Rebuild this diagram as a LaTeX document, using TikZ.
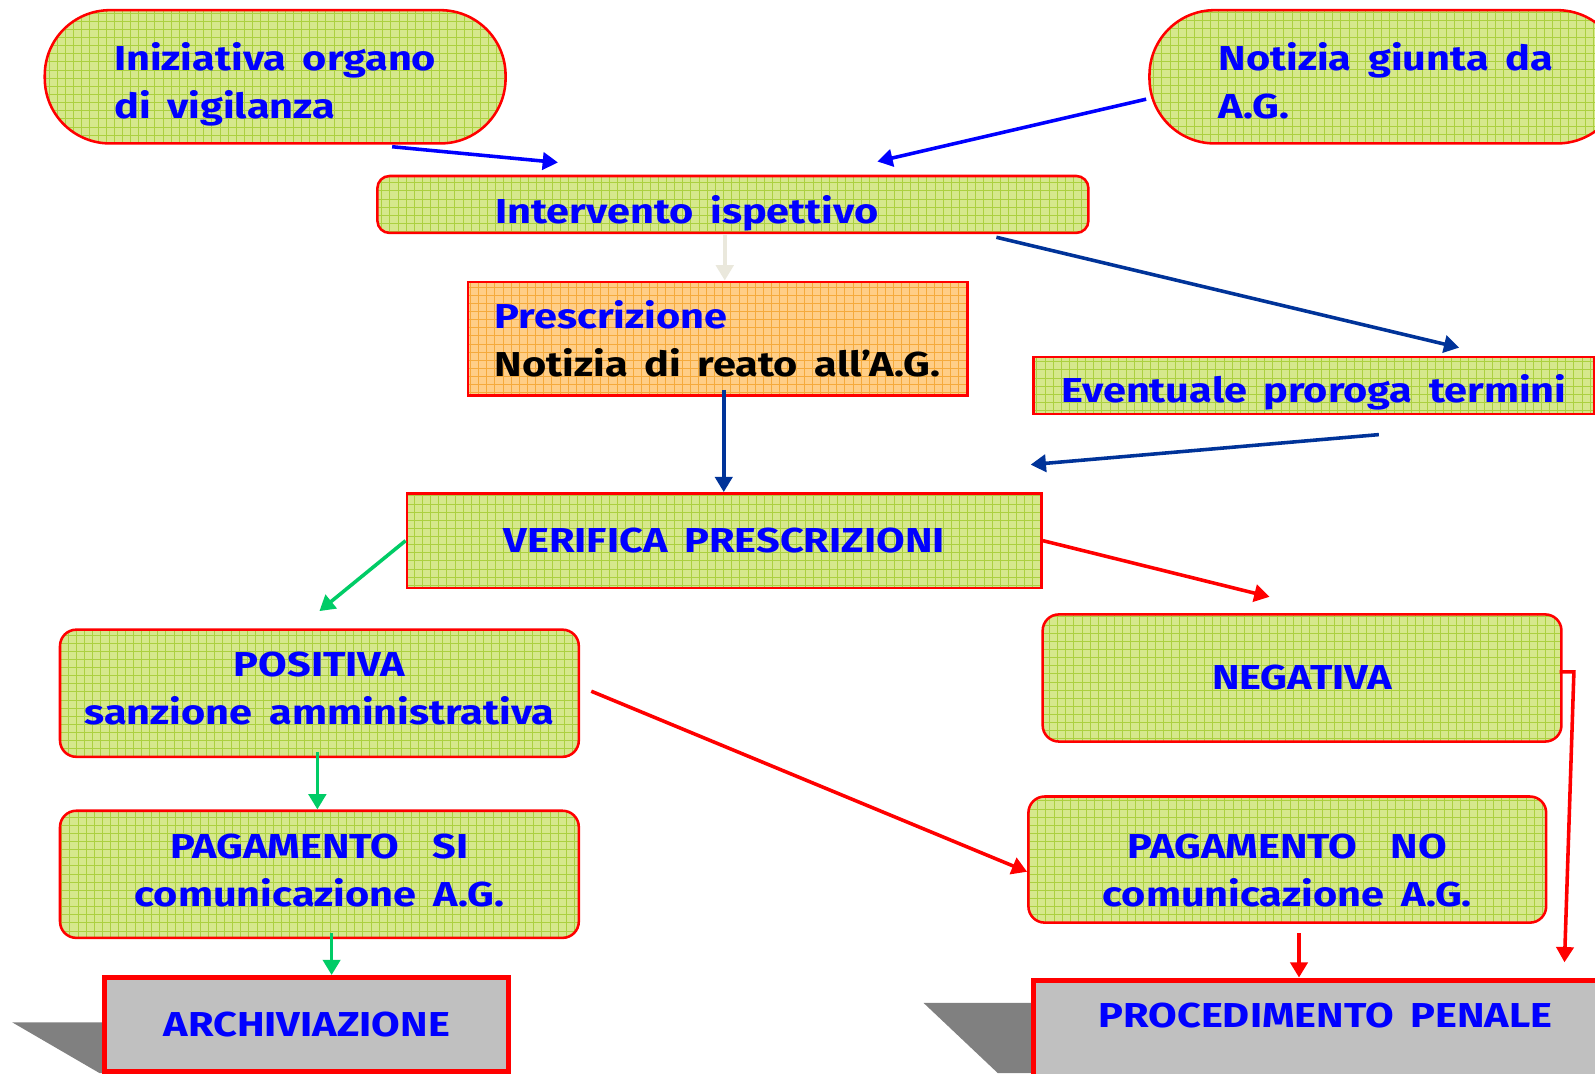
\documentclass[tikz,border=0pt]{standalone}
\usepackage{fontspec}
\setmainfont{Fira Sans}[FakeStretch=1.2,WordSpace=1.7]
\usetikzlibrary{arrows.meta}
\definecolor{boxgreen}{RGB}{214,232,140}
\definecolor{gridgreen}{RGB}{172,208,64}
\definecolor{boxorange}{RGB}{255,206,135}
\definecolor{gridorange}{RGB}{245,170,60}
\definecolor{txtblue}{RGB}{0,0,255}
\definecolor{navy}{RGB}{0,51,153}
\definecolor{arrgreen}{RGB}{0,204,102}
\definecolor{shadowgray}{RGB}{128,128,128}
\definecolor{endgray}{RGB}{192,192,192}
\definecolor{ghost}{RGB}{234,232,220}

\begin{document}
\begin{tikzpicture}[x=1pt,y=-1pt,
        font=\fontsize{34}{47}\selectfont\bfseries,text=txtblue,
        gridded/.style={path picture={\draw[#1,line width=0.6pt,step=8pt]
            (path picture bounding box.south west) grid (path picture bounding box.north east);}},
        box/.style={draw=red,line width=2.5pt,fill=boxgreen,gridded=gridgreen,
                    rounded corners=16pt,align=center,inner sep=0pt},
        pill/.style={box,rounded corners=64pt,align=left},
        sqbox/.style={box,sharp corners},
        obox/.style={draw=red,line width=2.5pt,fill=boxorange,gridded=gridorange,
                     align=left,inner sep=0pt},
        endbox/.style={draw=red,line width=5pt,fill=endgray,inner sep=0pt},
        arr/.style={-{Triangle[length=15pt,width=17pt]},line width=3.5pt}]
        \useasboundingbox (0,0) rectangle (1568,1055);
        \clip (0,0) rectangle (1568,1055);
        \fill[white] (0,0) rectangle (1568,1055);
        \node[pill,minimum width=453pt,minimum height=131pt] (ini) at (270.5,75.5) {\rule{0pt}{43pt}Iniziativa organo\\di vigilanza};
        \node[pill,minimum width=465pt,minimum height=131pt] (ntz) at (1362.5,75.5) {\rule{0pt}{35pt}Notizia giunta da\\A.G.};
        \node[box,rounded corners=12pt,minimum width=699pt,minimum height=56pt,text height=44pt,text depth=7pt] (isp) at (720.5,201) {Intervento ispettivo\hspace{90pt}};
        \node[obox,minimum width=491pt,minimum height=112pt] (prs) at (705.5,333) {Prescrizione\\\color{black}Notizia di reato all’A.G.};
        \node[sqbox,minimum width=551pt,minimum height=56pt,text height=40pt,text depth=7pt] (prg) at (1291.5,379) {Eventuale proroga termini};
        \node[sqbox,minimum width=624pt,minimum height=93pt] (ver) at (712,531.5) {VERIFICA PRESCRIZIONI};
        \node[box,minimum width=510pt,minimum height=125pt] (pos) at (314,681.5) {POSITIVA\\sanzione amministrativa\rule[-10pt]{0pt}{0pt}};
        \node[box,minimum width=510pt,minimum height=125pt] (neg) at (1280,666.5) {NEGATIVA};
        \node[box,minimum width=510pt,minimum height=125pt] (psi) at (314,859.5) {PAGAMENTO\ \ SI\\comunicazione A.G.\rule[-8pt]{0pt}{0pt}};
        \node[box,minimum width=509pt,minimum height=124pt] (pno) at (1265.5,845) {\rule{0pt}{46pt}PAGAMENTO\ \ NO\\comunicazione A.G.};
        % shadows of the two final boxes
        \fill[shadowgray] (12,1005) -- (103,1005) -- (103,1055) -- (98,1055) -- cycle;
        \fill[shadowgray] (908,986) -- (1016,986) -- (1016,1055) -- (981,1055) -- cycle;
        \node[endbox,minimum width=397pt,minimum height=92pt] (arc) at (301.5,1007) {ARCHIVIAZIONE};
        \node[endbox,anchor=north,minimum width=574pt,inner ysep=19pt,text height=28pt,text depth=90pt] (pen) at (1303,961) {PROCEDIMENTO PENALE};
        \draw[arr,blue] ([xshift=115pt,yshift=-2pt]ini.south) -- ([xshift=-172pt,yshift=12pt]isp.north);
        \draw[arr,blue] ([xshift=-2pt,yshift=-22pt]ntz.west) -- ([xshift=142pt,yshift=13pt]isp.north);
        \draw[arr,ghost] ([xshift=-8pt]isp.south) -- ([xshift=-8pt]isp.south |- prs.north);
        \draw[arr,navy] ([xshift=259pt,yshift=-3pt]isp.south) -- ([xshift=143pt,yshift=8pt]prg.north);
        \draw[arr,navy] ([xshift=64pt,yshift=-19pt]prg.south) -- ([xshift=-12pt,yshift=27pt]ver.north east);
        \draw[arr,navy] ([xshift=6pt,yshift=7pt]prs.south) -- ([xshift=6pt]prs.south |- ver.north);
        \draw[arr,arrgreen] (ver.west) -- ([yshift=17pt]pos.north);
        \draw[arr,red] (ver.east) -- ([xshift=-32pt,yshift=16pt]neg.north);
        \draw[arr,red] ([xshift=11pt,yshift=2pt]pos.east) -- ([yshift=-12pt]pno.west);
        \draw[arr,arrgreen] ([xshift=-2pt,yshift=6pt]pos.south) -- ([xshift=-2pt]pos.south |- psi.north);
        \draw[arr,arrgreen] ([xshift=12pt,yshift=6pt]psi.south) -- ([xshift=12pt]psi.south |- arc.north);
        \draw[arr,red] ([xshift=11.5pt,yshift=-9pt]pno.south) -- ([xshift=11.5pt]pno.south |- pen.north);
        \draw[arr,red] ([xshift=-3pt,yshift=6pt]neg.east) -- ++(14,0) -- ([xshift=235pt,yshift=15pt]pen.north);
      \end{tikzpicture}
\end{document}
